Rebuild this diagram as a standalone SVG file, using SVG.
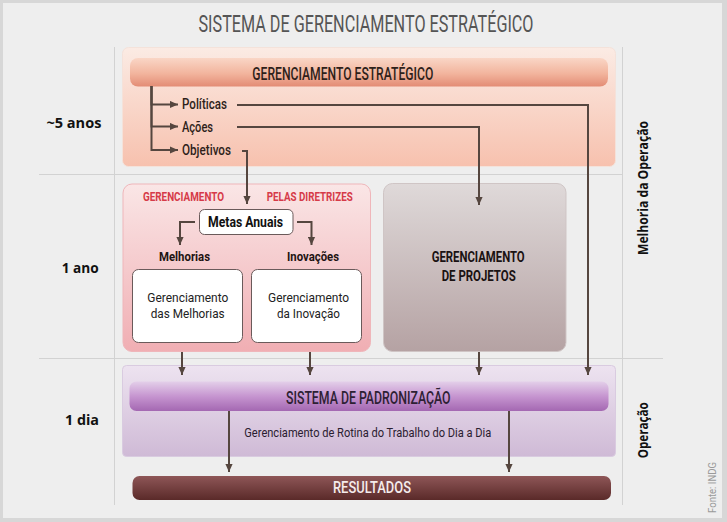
<svg xmlns="http://www.w3.org/2000/svg" width="727" height="522" viewBox="0 0 727 522">
<defs>
<linearGradient id="gTop" x1="0" y1="0" x2="0" y2="1"><stop offset="0" stop-color="#fbebe4"/><stop offset="1" stop-color="#f7c1ae"/></linearGradient>
<linearGradient id="gHead" x1="0" y1="0" x2="0" y2="1"><stop offset="0" stop-color="#fad6c6"/><stop offset="0.55" stop-color="#f2b49d"/><stop offset="1" stop-color="#e38c75"/></linearGradient>
<linearGradient id="gPink" x1="0" y1="0" x2="0" y2="1"><stop offset="0" stop-color="#fae6e6"/><stop offset="1" stop-color="#f0aeb3"/></linearGradient>
<linearGradient id="gGray" x1="0" y1="0" x2="0" y2="1"><stop offset="0" stop-color="#dfd9d9"/><stop offset="1" stop-color="#b5a2a3"/></linearGradient>
<linearGradient id="gPurp" x1="0" y1="0" x2="0" y2="1"><stop offset="0" stop-color="#ede3f0"/><stop offset="1" stop-color="#cfbad6"/></linearGradient>
<linearGradient id="gBar" x1="0" y1="0" x2="0" y2="1"><stop offset="0" stop-color="#e3cfe9"/><stop offset="0.5" stop-color="#c695d0"/><stop offset="1" stop-color="#a468b2"/></linearGradient>
<linearGradient id="gRes" x1="0" y1="0" x2="0" y2="1"><stop offset="0" stop-color="#8e5657"/><stop offset="1" stop-color="#5a2a29"/></linearGradient>
<marker id="arr" viewBox="0 0 10 10" refX="10" refY="5" markerWidth="8" markerHeight="8" markerUnits="userSpaceOnUse" orient="auto"><path d="M0,0.5 L10,5 L0,9.5 z" fill="#55463f"/></marker>
</defs>
<style>
.grid{stroke:#d2d2d2;stroke-width:1;fill:none}
.con{stroke:#55463f;stroke-width:2;fill:none}
.arr{marker-end:url(#arr)}
.c{font-family:"Liberation Sans Narrow","Roboto","Liberation Sans",sans-serif}
.h{font-family:"Open Sans","Noto Sans","Liberation Sans",sans-serif;font-weight:bold;fill:#111}
.dk{fill:#2e1f1a}
.box{fill:#fff;stroke:#6a5a5a;stroke-width:1}
</style>
<rect x="0" y="0" width="727" height="522" fill="#d7d7d7"/>
<rect x="3" y="3" width="719" height="515" fill="#eeeeee"/>

<g id="grid">
<line class="grid" x1="114.5" y1="47" x2="114.5" y2="505"/>
<line class="grid" x1="622.5" y1="47" x2="622.5" y2="505"/>
<line class="grid" x1="39" y1="174.5" x2="622" y2="174.5"/>
<line class="grid" x1="39" y1="358.5" x2="663" y2="358.5"/>
</g>

<g id="title"><text class="c" x="198.5" y="31.5" font-size="24" fill="#555" textLength="335" lengthAdjust="spacingAndGlyphs">SISTEMA DE GERENCIAMENTO ESTRATÉGICO</text></g>

<g id="labels">
<text class="h" x="46.4" y="128" font-size="14" textLength="55" lengthAdjust="spacingAndGlyphs">~5 anos</text>
<text class="h" x="61.7" y="273" font-size="14" textLength="37" lengthAdjust="spacingAndGlyphs">1 ano</text>
<text class="h" x="65" y="425" font-size="14" textLength="34" lengthAdjust="spacingAndGlyphs">1 dia</text>
<text class="h" transform="translate(648,255) rotate(-90)" font-size="14" textLength="134" lengthAdjust="spacingAndGlyphs">Melhoria da Operação</text>
<text class="h" transform="translate(648,458.3) rotate(-90)" font-size="14" textLength="56" lengthAdjust="spacingAndGlyphs">Operação</text>
<text transform="translate(716,513) rotate(-90)" font-family="Liberation Sans Narrow, Roboto, sans-serif" font-size="11" fill="#9a9a9a" textLength="51" lengthAdjust="spacingAndGlyphs">Fonte: INDG</text>
</g>

<g id="estrategico">
<rect x="122.5" y="47.5" width="493" height="119" rx="6" fill="url(#gTop)" stroke="#f4e2da"/>
<rect x="130" y="58" width="478" height="28.5" rx="8" fill="url(#gHead)"/>
<text class="c dk" x="252.3" y="79.5" font-size="17.5" font-weight="500" textLength="181" lengthAdjust="spacingAndGlyphs">GERENCIAMENTO ESTRATÉGICO</text>
</g>
<g id="politicas"><text class="c dk" x="182" y="109.3" font-size="14" font-weight="500" textLength="45" lengthAdjust="spacingAndGlyphs">Políticas</text></g>
<g id="acoes"><text class="c dk" x="182" y="131.5" font-size="14" font-weight="500" textLength="31" lengthAdjust="spacingAndGlyphs">Ações</text></g>
<g id="objetivos"><text class="c dk" x="182" y="154.5" font-size="14" font-weight="500" textLength="49" lengthAdjust="spacingAndGlyphs">Objetivos</text></g>

<g id="diretrizes">
<rect x="123" y="184" width="247.5" height="167.5" rx="9" fill="url(#gPink)" stroke="#efb6ba"/>
<text class="c" x="143" y="200.7" font-size="13" font-weight="bold" fill="#d63a48" textLength="81" lengthAdjust="spacingAndGlyphs">GERENCIAMENTO</text>
<text class="c" x="266.7" y="200.7" font-size="13" font-weight="bold" fill="#d63a48" textLength="86" lengthAdjust="spacingAndGlyphs">PELAS DIRETRIZES</text>
<text class="c" x="159" y="260.7" font-size="13.5" font-weight="bold" fill="#1e1412" textLength="51" lengthAdjust="spacingAndGlyphs">Melhorias</text>
<text class="c" x="287" y="260.7" font-size="13.5" font-weight="bold" fill="#1e1412" textLength="52" lengthAdjust="spacingAndGlyphs">Inovações</text>
</g>
<g id="metas">
<rect class="box" x="199.5" y="209.5" width="93.5" height="25" rx="5"/>
<text class="c" x="208" y="227.3" font-size="15.5" font-weight="bold" fill="#111" textLength="75" lengthAdjust="spacingAndGlyphs">Metas Anuais</text>
</g>
<g id="melhorias">
<rect class="box" x="132.5" y="269.5" width="110" height="73" rx="6"/>
<text class="c" x="147.3" y="302.3" font-size="13.5" fill="#222" textLength="81" lengthAdjust="spacingAndGlyphs">Gerenciamento</text>
<text class="c" x="150.7" y="318.3" font-size="13.5" fill="#222" textLength="74" lengthAdjust="spacingAndGlyphs">das Melhorias</text>
</g>
<g id="inovacao">
<rect class="box" x="251.5" y="269.5" width="110" height="73" rx="6"/>
<text class="c" x="268" y="302.3" font-size="13.5" fill="#222" textLength="81" lengthAdjust="spacingAndGlyphs">Gerenciamento</text>
<text class="c" x="277" y="318.3" font-size="13.5" fill="#222" textLength="63" lengthAdjust="spacingAndGlyphs">da Inovação</text>
</g>

<g id="projetos">
<rect x="383.5" y="183.5" width="182.5" height="168" rx="9" fill="url(#gGray)" stroke="#cfc5c5"/>
<text class="c" x="431.7" y="262.3" font-size="15.5" font-weight="bold" fill="#1a1212" textLength="93" lengthAdjust="spacingAndGlyphs">GERENCIAMENTO</text>
<text class="c" x="441.7" y="281" font-size="15.5" font-weight="bold" fill="#1a1212" textLength="74" lengthAdjust="spacingAndGlyphs">DE PROJETOS</text>
</g>

<g id="padronizacao">
<rect x="122.5" y="365.5" width="493" height="91" rx="4" fill="url(#gPurp)" stroke="#d9cbe0"/>
<rect x="129.5" y="381.5" width="479" height="29.5" rx="7" fill="url(#gBar)"/>
<text class="c" x="286" y="403.5" font-size="17.5" font-weight="500" fill="#2d1f33" textLength="164.6" lengthAdjust="spacingAndGlyphs">SISTEMA DE PADRONIZAÇÃO</text>
<text class="c" x="244.3" y="437.3" font-size="13" fill="#2a2030" textLength="247" lengthAdjust="spacingAndGlyphs">Gerenciamento de Rotina do Trabalho do Dia a Dia</text>
</g>

<g id="resultados">
<rect x="132.5" y="476" width="478.5" height="24" rx="7" fill="url(#gRes)"/>
<text class="c" x="333" y="493" font-size="16" font-weight="500" fill="#f5ecec" textLength="78" lengthAdjust="spacingAndGlyphs">RESULTADOS</text>
</g>

<g id="connectors">
<path class="con arr" d="M151.5,86 V104.5 H178"/>
<path class="con arr" d="M151.5,86 V126.5 H178"/>
<path class="con arr" d="M151.5,86 V150 H178"/>
<path class="con arr" d="M237,105 H588 V375"/>
<path class="con arr" d="M237,127 H479 V205"/>
<path class="con arr" d="M242,151 H247 V204"/>
<path class="con arr" d="M195,222 H180 V245"/>
<path class="con arr" d="M297,222 H311.5 V245"/>
<path class="con arr" d="M182,352 V375"/>
<path class="con arr" d="M310,352 V375"/>
<path class="con arr" d="M479,352 V375"/>
<path class="con arr" d="M229,411 V472"/>
<path class="con arr" d="M509,411 V472"/>
</g>
</svg>
